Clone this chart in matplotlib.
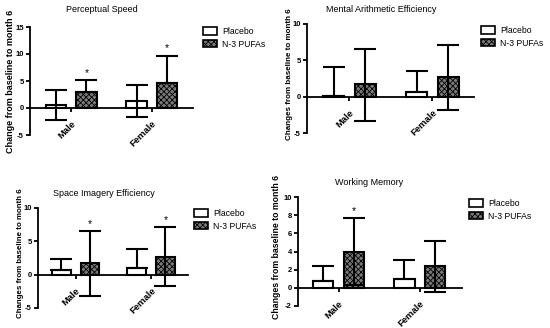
import matplotlib
matplotlib.use('Agg')
import matplotlib.pyplot as plt
from matplotlib.patches import Patch

plt.rcParams['font.family'] = ['Liberation Sans', 'DejaVu Sans']
plt.rcParams['hatch.linewidth'] = 0.6

groups = ['Male', 'Female']
series = ['Placebo', 'N-3 PUFAs']
titles = ['Perceptual Speed', 'Mental Arithmetic Efficiency',
          'Space Imagery Efficiency', 'Working Memory']
ylabels = ['Change from baseline to month 6', 'Changes from baseline to month 6',
           'Changes from baseline to month 6', 'Changes from baseline to month 6']

# bar heights and error bar ends (end == mean means no whisker that way)
placebo_mean = [[0.6, 1.3], [0.1, 0.7], [0.75, 0.95], [0.8, 1.0]]
placebo_lo = [[-2.2, -1.7], [0.1, 0.7], [0.75, 0.95], [0.8, 1.0]]
placebo_hi = [[3.3, 4.2], [4.1, 3.6], [2.3, 3.85], [2.35, 3.1]]
pufa_mean = [[3.0, 4.7], [1.7, 2.7], [1.7, 2.7], [4.0, 2.35]]
pufa_lo = [[3.0, 4.7], [-3.3, -1.8], [-3.2, -1.75], [0.35, -0.47]]
pufa_hi = [[5.1, 9.7], [6.6, 7.1], [6.6, 7.1], [7.65, 5.15]]
stars = [[True, True], [False, False], [True, True], [True, False]]

yticks = [[-5, 0, 5, 10, 15], [-5, 0, 5, 10], [-5, 0, 5, 10], [-2, 0, 2, 4, 6, 8, 10]]

# layout in pixels: left, right, top, bottom of each axes
W, H = 550, 328
boxes = [(30, 193, 27, 135), (307, 474, 24, 133), (38, 188, 208, 308), (298, 462, 197, 306)]
xlims = [(-0.51, 1.51), (-0.51, 1.5), (-0.5, 1.49), (-0.5, 1.52)]
title_pos = [(102, 10), (381, 10), (104, 194), (369, 182)]
label_pos = [(15, 81), (293, 74), (24, 253), (281, 247)]
label_size = [6.5, 5.8, 5.7, 6.3]
legend_pos = [(203, 27), (481, 26), (194, 209), (469, 199)]

fig = plt.figure(figsize=(W / 100, H / 100), dpi=100)

w = 0.25
off = 0.19
x = [0, 1]
dark = '#7a7a7a'

for i in range(4):
    l, r, t, b = boxes[i]
    ax = fig.add_axes([l / W, 1 - b / H, (r - l) / W, (b - t) / H])

    # spines first: moving a spine resets the tick settings
    ax.spines['top'].set_visible(False)
    ax.spines['right'].set_visible(False)
    ax.spines['bottom'].set_position(('data', 0))
    ax.spines['left'].set_linewidth(1.3)
    ax.spines['bottom'].set_linewidth(1.3)

    xp = [v - off for v in x]
    xn = [v + off for v in x]
    ax.bar(xp, placebo_mean[i], w, color='white', edgecolor='black', linewidth=1.5, zorder=2)
    ax.bar(xn, pufa_mean[i], w, color=dark, edgecolor='black', hatch='xxxxxx',
           linewidth=1.5, zorder=2)

    perr = [[m - lo for m, lo in zip(placebo_mean[i], placebo_lo[i])],
            [hi - m for m, hi in zip(placebo_mean[i], placebo_hi[i])]]
    nerr = [[m - lo for m, lo in zip(pufa_mean[i], pufa_lo[i])],
            [hi - m for m, hi in zip(pufa_mean[i], pufa_hi[i])]]
    ax.errorbar(xp, placebo_mean[i], yerr=perr, fmt='none', ecolor='black',
                elinewidth=1.5, capsize=8, capthick=1.5, zorder=3)
    ax.errorbar(xn, pufa_mean[i], yerr=nerr, fmt='none', ecolor='black',
                elinewidth=1.5, capsize=8, capthick=1.5, zorder=3)

    for j in range(2):
        if stars[i][j]:
            ax.annotate('*', (xn[j], pufa_hi[i][j]), xytext=(0, 1.5),
                        textcoords='offset points', ha='center', va='bottom',
                        fontsize=7.5)

    ax.set_xlim(*xlims[i])
    ax.set_ylim(yticks[i][0], yticks[i][-1])
    ax.set_yticks(yticks[i])
    ax.set_yticklabels([str(v) for v in yticks[i]], fontsize=5.5, fontweight='bold')
    ax.set_xticks(x)
    ax.set_xticklabels(groups, rotation=45, ha='right', va='top',
                       rotation_mode='anchor', fontsize=6.8, fontweight='bold')
    ax.tick_params(axis='both', direction='out', length=3, width=1.3, pad=1.5)
    ax.tick_params(axis='x', pad=5)

    ax.set_ylabel(ylabels[i], fontsize=label_size[i], fontweight='bold')
    ax.yaxis.set_label_coords(label_pos[i][0] / W, 1 - label_pos[i][1] / H,
                              transform=fig.transFigure)

    fig.text(title_pos[i][0] / W, 1 - title_pos[i][1] / H, titles[i],
             ha='center', va='center', fontsize=6.5)

    handles = [Patch(facecolor='white', edgecolor='black', linewidth=1.2, label=series[0]),
               Patch(facecolor=dark, edgecolor='black', hatch='xxxxxx',
                     linewidth=1.2, label=series[1])]
    fig.legend(handles=handles, loc='upper left',
               bbox_to_anchor=(legend_pos[i][0] / W, 1 - legend_pos[i][1] / H),
               frameon=False, fontsize=6.2, handlelength=1.6, handleheight=0.9,
               handletextpad=0.6, labelspacing=0.45, borderpad=0, borderaxespad=0)

fig.savefig('out.png', dpi=100)
